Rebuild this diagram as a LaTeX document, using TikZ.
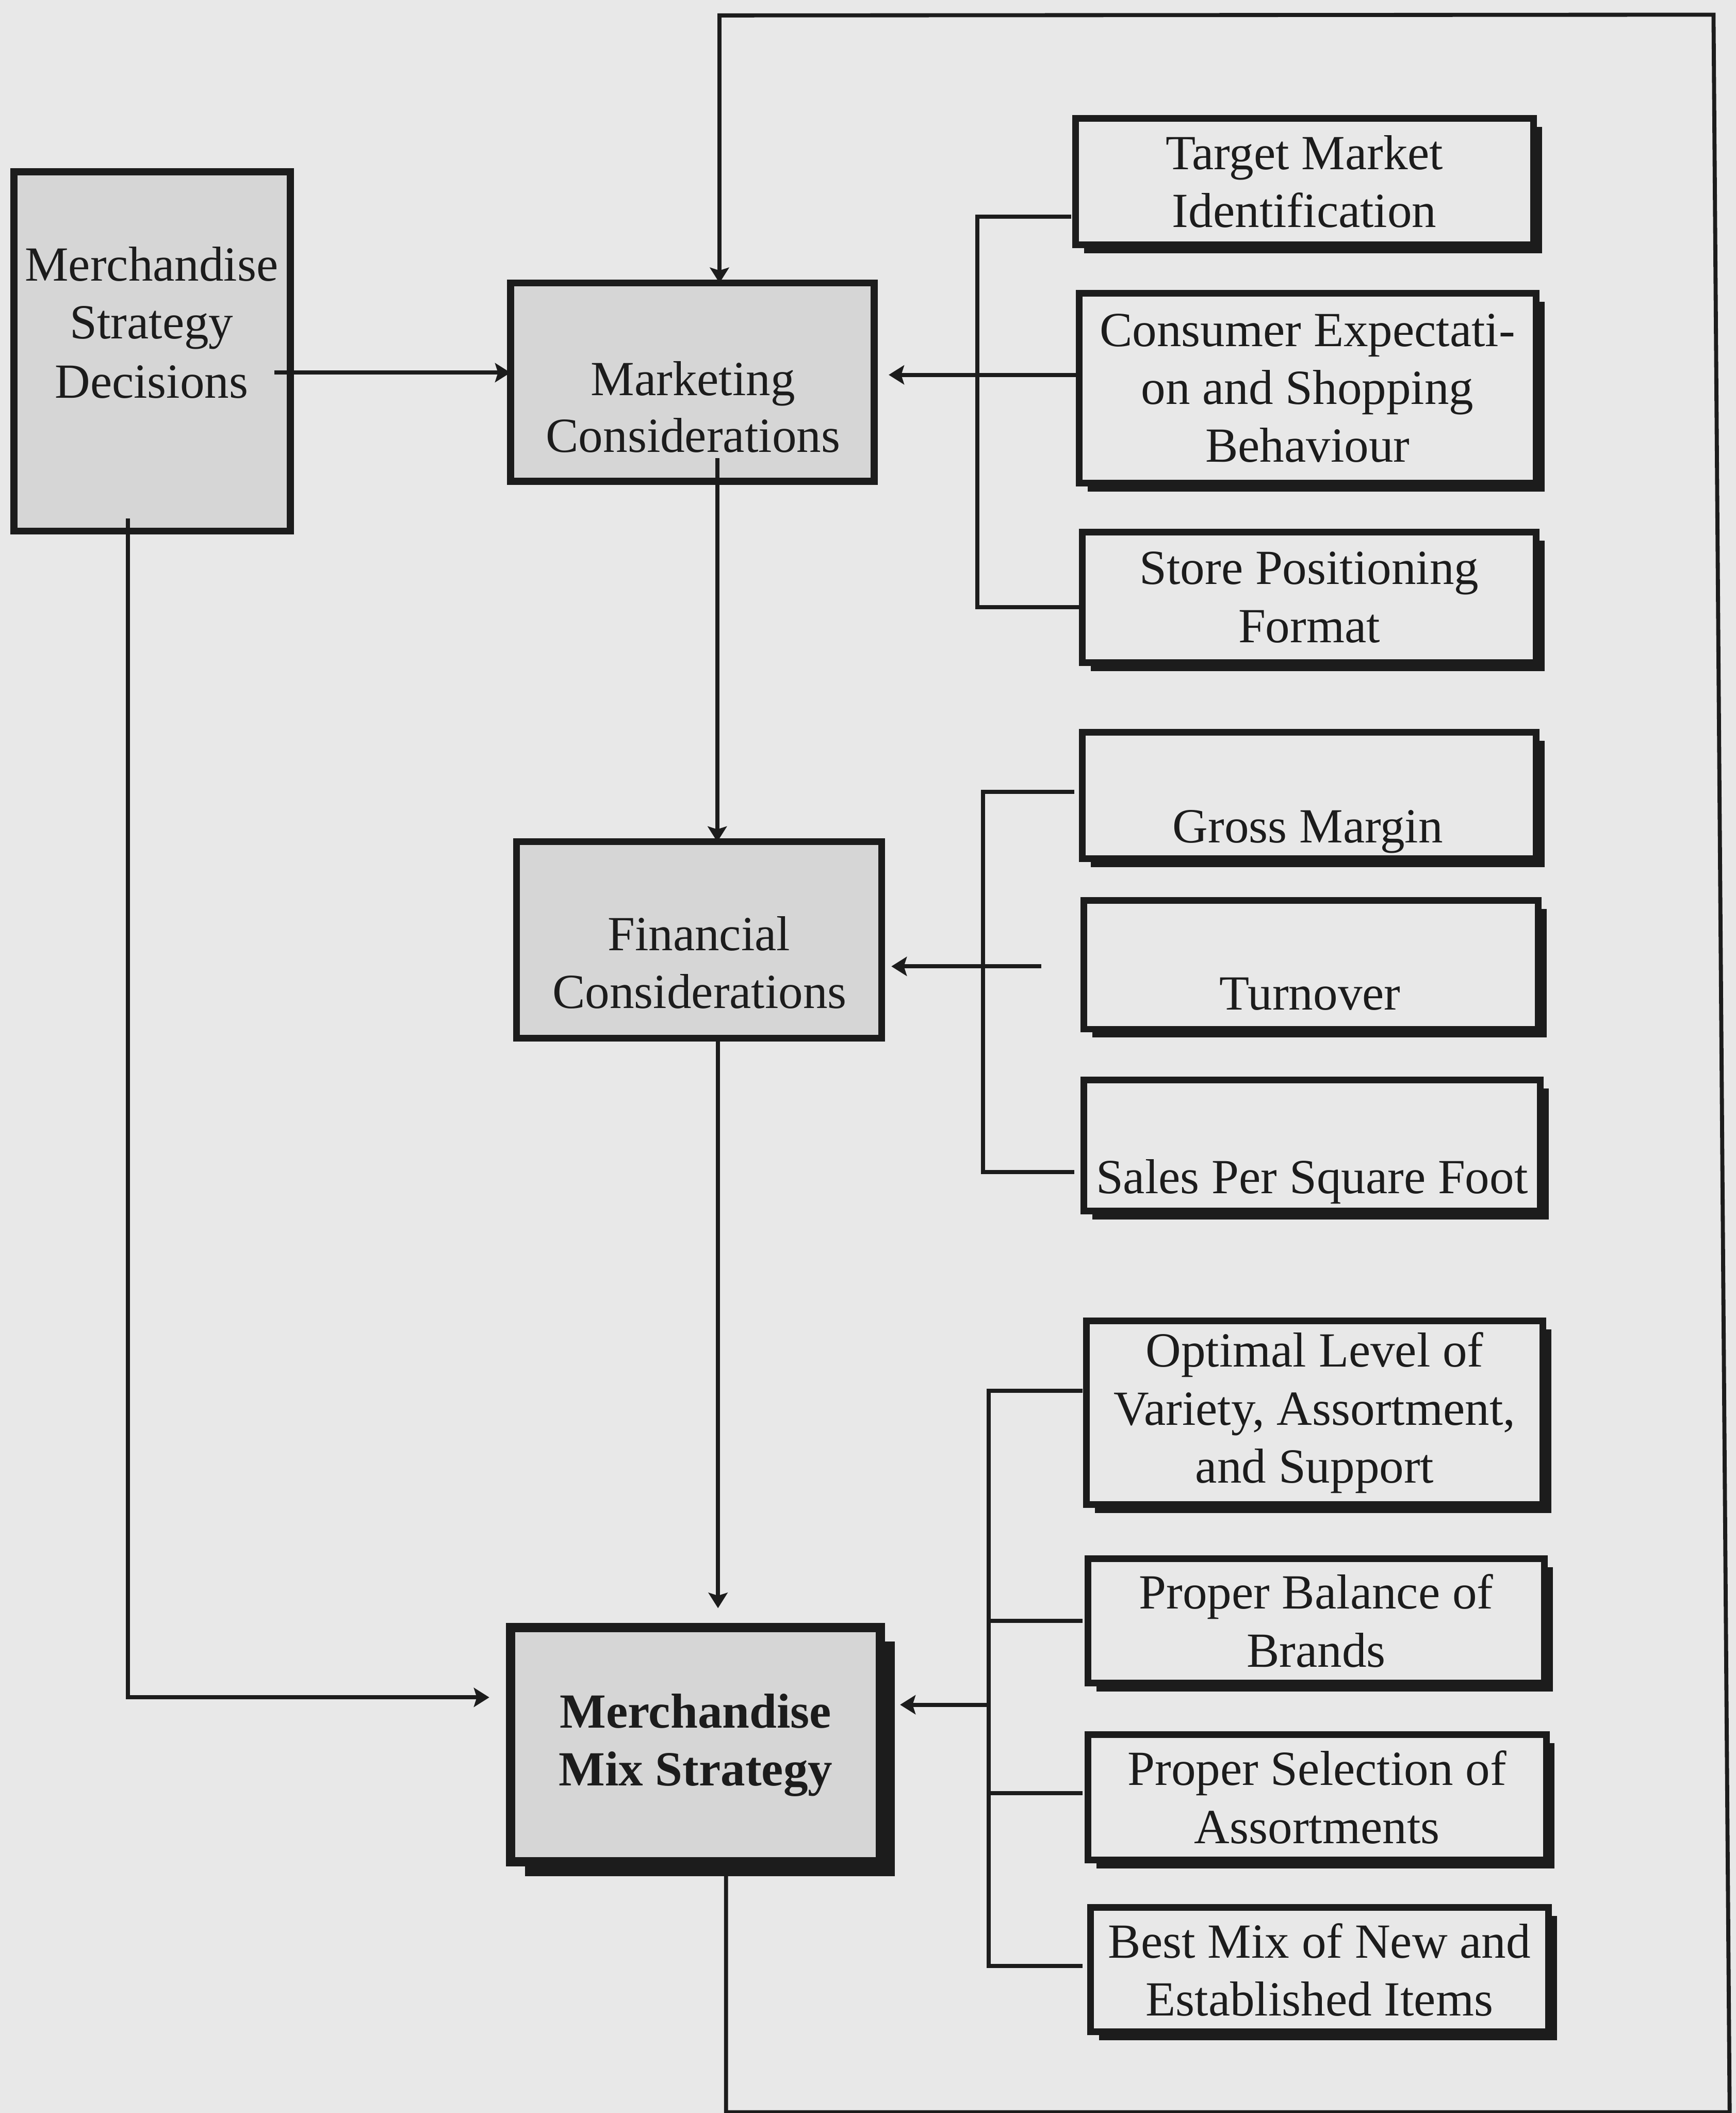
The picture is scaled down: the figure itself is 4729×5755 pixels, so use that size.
\documentclass[tikz,border=0pt]{standalone}
\usepackage{fontspec}
\setmainfont{Liberation Serif}
\usetikzlibrary{arrows.meta,calc,shadows}
\definecolor{paper}{RGB}{232,232,232}
\definecolor{panel}{RGB}{214,214,214}
\definecolor{ink}{RGB}{28,28,28}

\begin{document}
\begin{tikzpicture}[x=0.01cm,y=-0.01cm,
  every node/.style={font=\fontsize{38}{44.8}\selectfont, text=ink, inner sep=0pt, outer sep=0pt},
  lbl/.style={anchor=base},
  graybox/.style={rectangle, draw=ink, fill=panel, line width=0.19cm},
  factor/.style={rectangle, draw=ink, fill=paper, line width=0.18cm, align=center,
    drop shadow={shadow xshift=0.23cm, shadow yshift=-0.23cm, fill=ink, opacity=1}},
  mixbox/.style={rectangle, draw=ink, fill=panel, line width=0.25cm,
    drop shadow={shadow xshift=0.39cm, shadow yshift=-0.39cm, fill=ink, opacity=1}},
  conn/.style={draw=ink, line width=0.11cm},
  arr/.style={conn, -{Stealth[length=0.42cm, width=0.52cm, inset=0.08cm]}}
]
% page
\useasboundingbox (0,0) rectangle (4729,5755);
\fill[paper] (0,0) rectangle (4729,5755);

% left column
\node[graybox, minimum width=7.52cm, minimum height=9.78cm] (st) at (414.5,957.5) {};
\node[lbl] (st1) at (413,765) {Merchandise};
\node[lbl] (st2) at (413,923) {Strategy};
\node[lbl] (st3) at (413,1084) {Decisions};

% middle column
\node[graybox, minimum width=9.90cm, minimum height=5.40cm] (mkt) at (1886,1041) {};
\node[lbl] (mkt1) at (1888,1077) {Marketing};
\node[lbl] (mkt2) at (1888,1232) {Considerations};

\node[graybox, line width=0.18cm, minimum width=9.95cm, minimum height=5.35cm] (fin) at (1904.5,2560.5) {};
\node[lbl] (fin1) at (1904,2589) {Financial};
\node[lbl] (fin2) at (1906,2746) {Considerations};

\node[mixbox, minimum width=10.07cm, minimum height=6.38cm] (mix) at (1895,4751.5) {};
\node[lbl, font=\fontsize{38}{44.8}\selectfont\bfseries] (mix1) at (1895,4706) {Merchandise};
\node[lbl, font=\fontsize{38}{44.8}\selectfont\bfseries] (mix2) at (1895,4863) {Mix Strategy};

% marketing factors
\node[factor, minimum width=12.47cm, minimum height=3.44cm] (tm) at (3553.5,495) {Target Market\\Identification};
\node[factor, minimum width=12.44cm, minimum height=5.17cm] (ce) at (3562,1057.5) {Consumer Expectati-\\on and Shopping\\Behaviour};
\node[factor, minimum width=12.35cm, minimum height=3.56cm] (sp) at (3566.5,1627) {Store Positioning\\Format};

% financial factors
\node[factor, minimum width=12.36cm, minimum height=3.45cm] (gm) at (3567,2166.5) {};
\node[lbl] (gmt) at (3563,2295) {Gross Margin};
\node[factor, minimum width=12.37cm, minimum height=3.50cm] (to) at (3571.5,2628) {};
\node[lbl] (tot) at (3569,2750) {Turnover};
\node[factor, minimum width=12.43cm, minimum height=3.56cm] (sf) at (3574.5,3120) {};
\node[lbl] (sft) at (3574,3250) {Sales Per Square Foot};

% merchandise mix factors
\node[factor, minimum width=12.43cm, minimum height=5.00cm] (ol) at (3581.5,3848) {Optimal Level of\\Variety, Assortment,\\and Support};
\node[factor, minimum width=12.43cm, minimum height=3.39cm] (pb) at (3585.5,4414.5) {Proper Balance of\\Brands};
\node[factor, minimum width=12.48cm, minimum height=3.42cm] (ps) at (3588,4895) {Proper Selection of\\Assortments};
\node[factor, minimum width=12.47cm, minimum height=3.39cm] (bm) at (3594.5,5364.5) {Best Mix of New and\\Established Items};

% feedback loop from the mix strategy back to the marketing considerations
\coordinate (loopA) at (1978,5753);
\coordinate (loopB) at (4712,5753);
\coordinate (loopC) at (4668,40);
\coordinate (loopD) at (1960,42);
\draw[arr] (mix.south -| loopA) -- (loopA) -- (loopB) -- (loopC) -- (loopD) -- (loopD |- mkt.north);

% strategy decisions
\coordinate (s1) at (748,1015);
\draw[arr] (s1) -- (s1 -| mkt.west);
\coordinate (s2) at (349,1412);
\coordinate (s2e) at (1333,4623);
\draw[arr] (s2) |- (s2e);

% main chain
\coordinate (m1) at (1954,1248);
\draw[arr] (m1) -- (m1 |- fin.north);
\coordinate (f1) at (1956,4380);
\draw[arr] (fin.south -| f1) -- (f1);

% marketing bracket
\coordinate (c1) at (2421,1021);
\draw[arr] (c1 -| ce.west) -- (c1);
\coordinate (mb) at (2663,1654);
\draw[conn] ($(tm.west)+(-12,95)$) -| (mb) -- (mb -| sp.west);

% financial bracket
\coordinate (fb) at (2678,3192);
\draw[conn] ($(gm.west)+(-22,-10)$) -| (fb) -- ($(fb -| sf.west)+(-26,0)$);
\coordinate (fa) at (2837,2632);
\draw[arr] (fa) -- ($(fa -| fin.east)+(26,0)$);

% merchandise mix bracket
\coordinate (xb) at (2693,5355);
\draw[conn] ($(ol.west)+(-11,-60)$) -| (xb) -- ($(xb -| bm.west)+(-22,0)$);
\draw[conn] (xb |- pb.west) -- ($(pb.west)+(-15,0)$);
\draw[conn] ($(xb |- ps.west)+(0,-11)$) -- ($(ps.west)+(-15,-11)$);
\coordinate (xa) at (2452,4643);
\draw[arr] (xb |- xa) -- (xa);
\end{tikzpicture}
\end{document}
